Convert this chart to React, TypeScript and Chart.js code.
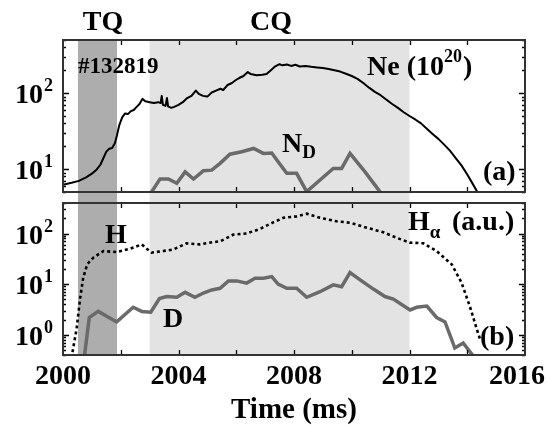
import { useEffect, useRef } from 'react';
import { Chart, registerables } from 'chart.js';
Chart.register(...registerables);

// ---------------- data ----------------
const neTime = [2000.0, 2000.3, 2000.55, 2000.8, 2001.0, 2001.17, 2001.3, 2001.4, 2001.5, 2001.6, 2001.7, 2001.8, 2001.87, 2001.95, 2002.05, 2002.15, 2002.25, 2002.35, 2002.45, 2002.55, 2002.65, 2002.75, 2002.85, 2003.0, 2003.15, 2003.3, 2003.38, 2003.42, 2003.46, 2003.55, 2003.6, 2003.64, 2003.75, 2003.85, 2004.0, 2004.15, 2004.3, 2004.45, 2004.6, 2004.7, 2004.85, 2005.0, 2005.15, 2005.3, 2005.45, 2005.55, 2005.7, 2005.85, 2006.0, 2006.1, 2006.25, 2006.4, 2006.5, 2006.7, 2006.9, 2007.05, 2007.2, 2007.35, 2007.5, 2007.6, 2007.75, 2007.9, 2008.05, 2008.2, 2008.4, 2008.6, 2008.8, 2009.0, 2009.2, 2009.4, 2009.6, 2009.8, 2010.0, 2010.2, 2010.4, 2010.6, 2010.8, 2011.0, 2011.2, 2011.4, 2011.6, 2011.8, 2012.0, 2012.2, 2012.4, 2012.6, 2012.8, 2013.0, 2013.2, 2013.4, 2013.6, 2013.8, 2014.0, 2014.2, 2014.35, 2014.5];
const neValue = [6.2, 6.6, 7.0, 7.8, 8.7, 9.9, 11.5, 14, 17, 18.5, 19, 22, 28, 38, 48, 54, 53, 58, 60, 66, 72, 84, 78, 76, 74, 76, 74, 92, 70, 68, 86, 67, 64, 66, 70, 76, 86, 92, 108, 98, 92, 90, 102, 108, 114, 110, 128, 136, 150, 158, 168, 190, 178, 172, 174, 178, 200, 225, 240, 232, 238, 228, 236, 224, 228, 222, 218, 214, 208, 200, 192, 180, 168, 154, 136, 118, 104, 94, 82, 72, 64, 56, 50, 45, 40, 34, 29, 25, 21, 17.5, 14, 11.2, 8.5, 6.3, 5.0, 4.0];

const ndTime = [2003.05, 2003.36, 2003.65, 2003.94, 2004.23, 2004.52, 2004.86, 2005.15, 2005.44, 2005.78, 2006.19, 2006.6, 2006.94, 2007.23, 2007.45, 2007.75, 2008.09, 2008.44, 2008.9, 2009.36, 2009.65, 2009.94, 2010.46, 2011.0];
const ndValue = [4.9, 7.4, 7.4, 6.5, 9.2, 7.4, 9.5, 9.7, 11.9, 15.7, 16.9, 18.7, 16.1, 16.3, 12.5, 8.8, 8.8, 5.05, 7.2, 10.2, 10.2, 16.1, 9.2, 4.9];

const haTime = [2000.28, 2000.33, 2000.47, 2000.59, 2000.7, 2000.84, 2001.05, 2001.4, 2001.86, 2002.32, 2002.73, 2002.9, 2003.07, 2003.47, 2003.82, 2004.28, 2004.74, 2005.2, 2005.44, 2005.9, 2006.36, 2006.82, 2007.28, 2007.5, 2007.63, 2008.09, 2008.44, 2008.9, 2009.48, 2009.94, 2010.52, 2011.09, 2011.56, 2012.02, 2012.48, 2012.94, 2013.46, 2013.8, 2014.1, 2014.33, 2014.44];
const haValue = [0.35, 0.46, 1.3, 5.1, 13.5, 24.7, 33.4, 45, 43, 50, 61, 50, 42, 45, 48.5, 64, 61, 67.5, 70, 95, 100, 123, 166, 188, 204, 218, 246, 204, 174, 163, 130, 106, 82, 66, 64, 45, 24.7, 10.8, 3.5, 1.3, 0.83];

const dTime = [2000.72, 2000.91, 2001.22, 2001.86, 2002.43, 2002.73, 2003.04, 2003.34, 2003.59, 2003.94, 2004.23, 2004.57, 2004.86, 2005.15, 2005.44, 2005.73, 2006.02, 2006.36, 2006.65, 2006.94, 2007.23, 2007.45, 2007.75, 2008.09, 2008.44, 2008.9, 2009.36, 2009.65, 2009.94, 2010.29, 2010.75, 2011.15, 2011.44, 2012.02, 2012.25, 2012.6, 2012.94, 2013.23, 2013.57, 2013.86, 2014.15, 2014.35];
const dValue = [0.3, 2.2, 2.9, 1.8, 3.5, 2.9, 2.8, 5.2, 5.7, 5.5, 6.9, 5.5, 6.7, 7.7, 8.3, 11.6, 11.6, 10.5, 13.1, 13.1, 14.1, 10.0, 8.3, 8.3, 5.5, 7.1, 9.7, 8.9, 17, 12.2, 8, 5.7, 5.1, 3.1, 3.5, 3.7, 2.2, 1.8, 0.55, 0.69, 0.42, 0.3];

const xMin = 2000;
const xMax = 2016;
const xTickMarks = [2002, 2004, 2006, 2008, 2010, 2012, 2014];
const xTickLabels = [2000, 2004, 2008, 2012, 2016];
const topYRange = [5, 500];
const botYRange = [0.4, 400];
const topDecades = [1, 2];
const botDecades = [0, 1, 2];
const tqBand = [2000.52, 2001.87];
const cqBand = [2003.0, 2012.0];

// ---------------- style ----------------
const FONT = '"Liberation Serif", "Times New Roman", Times, serif';
const W = 547;
const TOP_H = 198;
const BOT_H = 228;
const DARK_BAND = '#adadad';
const LIGHT_BAND = '#e3e3e3';
const GRAY_LINE = '#6a6a6a';

const pts = (t: number[], v: number[]) => t.map((x, i) => ({ x, y: v[i] }));

function txt(ctx: CanvasRenderingContext2D, s: string, x: number, y: number, size: number, align: CanvasTextAlign = 'left') {
  ctx.font = `bold ${size}px ${FONT}`;
  ctx.textAlign = align;
  ctx.textBaseline = 'alphabetic';
  ctx.fillStyle = '#000';
  ctx.fillText(s, x, y);
  return ctx.measureText(s).width;
}

function drawFrameAndTicks(chart: any, range: number[], decades: number[]) {
  const { ctx, chartArea: a, scales } = chart;
  const x = scales.x;
  const y = scales.y;
  ctx.save();
  ctx.strokeStyle = '#000';
  ctx.lineWidth = 1.3;
  ctx.beginPath();
  for (const t of xTickMarks) {
    const px = Math.round(x.getPixelForValue(t)) + 0.5;
    ctx.moveTo(px, a.bottom);
    ctx.lineTo(px, a.bottom - 5);
    ctx.moveTo(px, a.top);
    ctx.lineTo(px, a.top + 5);
  }
  const k0 = Math.floor(Math.log10(range[0]));
  const k1 = Math.ceil(Math.log10(range[1]));
  for (let k = k0; k <= k1; k++) {
    for (let m = 1; m <= 9; m++) {
      const v = m * Math.pow(10, k);
      if (v < range[0] || v > range[1]) continue;
      const py = Math.round(y.getPixelForValue(v)) + 0.5;
      const len = m === 1 ? 6 : 3;
      ctx.moveTo(a.left, py);
      ctx.lineTo(a.left + len, py);
      ctx.moveTo(a.right, py);
      ctx.lineTo(a.right - len, py);
    }
  }
  ctx.stroke();
  ctx.strokeStyle = '#333';
  ctx.lineWidth = 2;
  ctx.strokeRect(a.left, a.top, a.right - a.left, a.bottom - a.top);
  for (const k of decades) {
    const py = y.getPixelForValue(Math.pow(10, k));
    txt(ctx, '10', 43, py + 10, 28, 'right');
    txt(ctx, String(k), 44, py - 2, 18, 'left');
  }
  ctx.restore();
}

function bandsPlugin(kind: 'top' | 'bottom') {
  return {
    id: 'bands_' + kind,
    beforeDatasetsDraw(chart: any) {
      const { ctx, chartArea: a, scales } = chart;
      const x = scales.x;
      const y0 = kind === 'top' ? a.top : 0;
      const y1 = kind === 'top' ? chart.height : a.bottom;
      ctx.save();
      ctx.fillStyle = LIGHT_BAND;
      let p0 = x.getPixelForValue(cqBand[0]);
      let p1 = x.getPixelForValue(cqBand[1]);
      ctx.fillRect(p0, y0, p1 - p0, y1 - y0);
      ctx.fillStyle = DARK_BAND;
      p0 = x.getPixelForValue(tqBand[0]);
      p1 = x.getPixelForValue(tqBand[1]);
      ctx.fillRect(p0, y0, p1 - p0, y1 - y0);
      ctx.restore();
    },
  };
}

const topDecor = {
  id: 'topDecor',
  afterDraw(chart: any) {
    const { ctx } = chart;
    drawFrameAndTicks(chart, topYRange, topDecades);
    ctx.save();
    txt(ctx, 'TQ', 103, 30, 28, 'center');
    txt(ctx, 'CQ', 271, 30, 28, 'center');
    txt(ctx, '#132819', 78, 73, 23);
    let xx = 367;
    xx += txt(ctx, 'Ne', xx, 75, 28);
    xx += 7;
    xx += txt(ctx, '(10', xx, 75, 28);
    xx += txt(ctx, '20', xx, 62, 18);
    txt(ctx, ')', xx + 1, 75, 28);
    const nw = txt(ctx, 'N', 282, 152, 28);
    txt(ctx, 'D', 282 + nw, 158, 19);
    txt(ctx, '(a)', 483, 180, 28);
    ctx.restore();
  },
};

const botDecor = {
  id: 'botDecor',
  afterDraw(chart: any) {
    const { ctx, scales } = chart;
    drawFrameAndTicks(chart, botYRange, botDecades);
    ctx.save();
    txt(ctx, 'H', 105, 45, 28);
    txt(ctx, 'D', 163, 129, 28);
    const hw = txt(ctx, 'H', 408, 32, 28);
    txt(ctx, 'α', 408 + hw, 40, 19);
    txt(ctx, '(a.u.)', 452, 32, 28);
    txt(ctx, '(b)', 480, 147, 28);
    const x = scales.x;
    for (const t of xTickLabels) {
      let cx = x.getPixelForValue(t);
      ctx.font = `bold 28px ${FONT}`;
      const w = ctx.measureText(String(t)).width;
      if (cx + w / 2 > W - 2) cx = W - 2 - w / 2;
      txt(ctx, String(t), cx, 186, 28, 'center');
    }
    txt(ctx, 'Time (ms)', (chart.chartArea.left + chart.chartArea.right) / 2, 220, 29, 'center');
    ctx.restore();
  },
};

function baseOptions(padding: any, yRange: number[]) {
  return {
    responsive: false,
    maintainAspectRatio: false,
    animation: false as const,
    events: [] as any[],
    layout: { padding },
    plugins: { legend: { display: false }, tooltip: { enabled: false }, title: { display: false } },
    scales: {
      x: { type: 'linear' as const, min: xMin, max: xMax, display: false },
      y: { type: 'logarithmic' as const, min: yRange[0], max: yRange[1], display: false },
    },
    elements: { point: { radius: 0 }, line: { tension: 0 } },
  };
}

export default function App() {
  const topRef = useRef<HTMLCanvasElement>(null);
  const botRef = useRef<HTMLCanvasElement>(null);

  useEffect(() => {
    const top = new Chart(topRef.current as HTMLCanvasElement, {
      type: 'line',
      data: {
        datasets: [
          { label: 'N_D', data: pts(ndTime, ndValue), borderColor: GRAY_LINE, borderWidth: 3.5, clip: 0, borderJoinStyle: 'miter' },
          { label: 'Ne (10^20)', data: pts(neTime, neValue), borderColor: '#000', borderWidth: 2, clip: 0, borderJoinStyle: 'round' },
        ],
      },
      options: baseOptions({ left: 63, right: 22, top: 40, bottom: 6 }, topYRange) as any,
      plugins: [bandsPlugin('top'), topDecor],
    });
    const bot = new Chart(botRef.current as HTMLCanvasElement, {
      type: 'line',
      data: {
        datasets: [
          { label: 'H_alpha', data: pts(haTime, haValue), borderColor: '#000', borderWidth: 2.6, borderDash: [3, 3], clip: 0 },
          { label: 'D', data: pts(dTime, dValue), borderColor: GRAY_LINE, borderWidth: 3.5, clip: 0, borderJoinStyle: 'miter' },
        ],
      },
      options: baseOptions({ left: 63, right: 22, top: 5, bottom: 71 }, botYRange) as any,
      plugins: [bandsPlugin('bottom'), botDecor],
    });
    return () => {
      top.destroy();
      bot.destroy();
    };
  }, []);

  return (
    <div style={{ position: 'fixed', left: 0, top: 0, width: W, height: TOP_H + BOT_H, background: '#fff' }}>
      <canvas ref={topRef} width={W} height={TOP_H} style={{ position: 'absolute', left: 0, top: 0 }} />
      <canvas ref={botRef} width={W} height={BOT_H} style={{ position: 'absolute', left: 0, top: TOP_H }} />
    </div>
  );
}
